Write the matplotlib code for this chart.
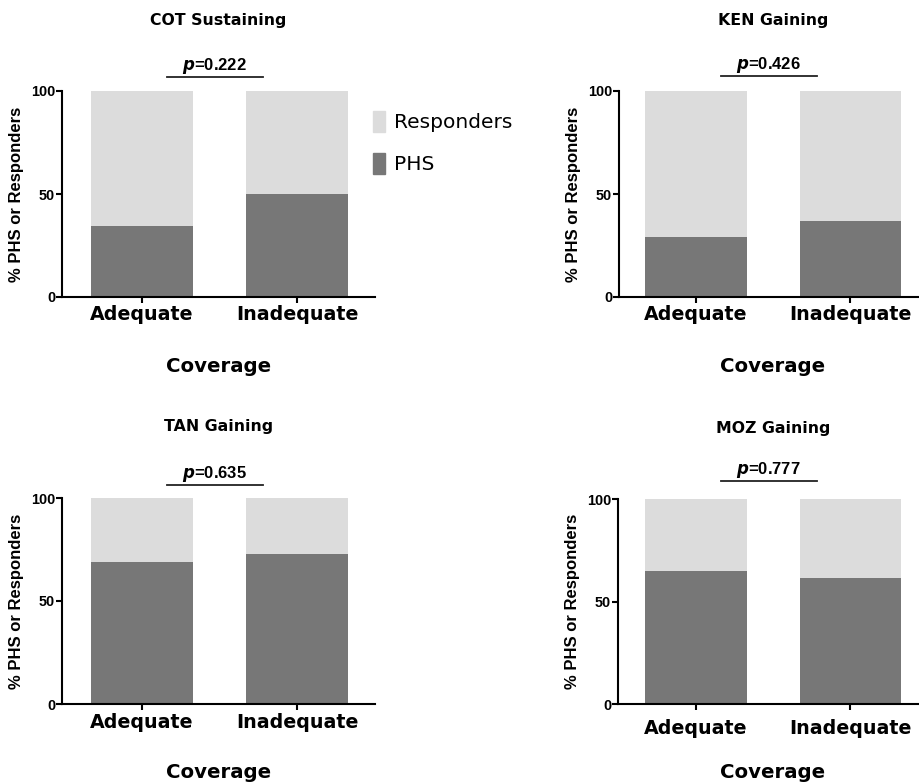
import matplotlib
matplotlib.use('Agg')
import matplotlib.pyplot as plt
from matplotlib.patches import Patch

# data
titles = ["COT Sustaining", "KEN Gaining", "TAN Gaining", "MOZ Gaining"]
categories = ["Adequate", "Inadequate"]
phs_adequate = [34.5, 29.1, 68.9, 64.9]
phs_inadequate = [50.0, 36.9, 72.8, 61.5]
p_values = ["0.222", "0.426", "0.635", "0.777"]

W, H = 920, 784
DARK = '#777777'
LIGHT = '#dcdcdc'
GOTHIC = 'DejaVu Sans'
ARIAL = 'Liberation Sans'

# panel geometry in pixels: axes left, top, right, bottom, first/second bar centre
layout = [
    (62, 91, 375, 297, 142, 297),
    (619, 91, 920, 297, 696, 850.5),
    (62, 498, 375, 704, 142, 297),
    (618, 499, 920, 704, 696, 850.5),
]
tick_pads = [1.5, 1.5, 2.5, 6.5]
cover_y = [367, 367, 773, 773]
title_y = [21, 21, 427, 428]
pline_px = [77, 76, 485, 481]


def fx(x):
    return x / W


def fy(y):
    return 1 - y / H


fig = plt.figure(figsize=(W / 100, H / 100), dpi=100)

for i, (l, t, r, b, c0, c1) in enumerate(layout):
    ax = fig.add_axes([fx(l), fy(b), fx(r) - fx(l), fy(t) - fy(b)])
    step = c1 - c0
    xs = [0, 1]
    phs = [phs_adequate[i], phs_inadequate[i]]
    resp = [100 - v for v in phs]
    ax.bar(xs, phs, width=0.66, color=DARK, linewidth=0, label='PHS')
    ax.bar(xs, resp, bottom=phs, width=0.66, color=LIGHT, linewidth=0,
           label='Responders')
    ax.set_xlim((l - c0) / step, (r - c0) / step)
    ax.set_ylim(0, 100)
    ax.set_yticks([0, 50, 100])
    ax.set_xticks(xs)
    ax.set_xticklabels(categories, fontsize=13.7, fontweight='bold',
                       family=GOTHIC)
    for lab in ax.get_yticklabels():
        lab.set_family(ARIAL)
        lab.set_fontweight('bold')
        lab.set_fontsize(10.4)
    for s in ['top', 'right']:
        ax.spines[s].set_visible(False)
    for s in ['left', 'bottom']:
        ax.spines[s].set_linewidth(1.5)
    ax.tick_params(axis='y', length=4, width=1.5, pad=1)
    ax.tick_params(axis='x', length=4, width=1.5, pad=tick_pads[i])

    ax.set_ylabel('% PHS or Responders', family=ARIAL, fontweight='bold',
                  fontsize=12)
    ax.yaxis.set_label_coords(-38 / (r - l), 0.5)

    # p-value bracket
    yl = (b - pline_px[i]) / (b - t) * 100
    ax.plot([0.16, 0.78], [yl, yl], color='#222222', lw=1.3, clip_on=False)
    ax.text(0.47, yl + 0.4, r'$\mathbfit{p}$=' + p_values[i], ha='center',
            va='bottom', family=ARIAL, fontweight='bold', fontsize=12)

    fig.text(fx((l + r) / 2 if i % 2 == 0 else 773), fy(title_y[i]),
             titles[i], ha='center', va='center', family=GOTHIC,
             fontweight='bold', fontsize=11.3)
    fig.text(fx((l + r) / 2 if i % 2 == 0 else 773), fy(cover_y[i]),
             'Coverage', ha='center', va='center', family=GOTHIC,
             fontweight='bold', fontsize=14.2)

    if i == 0:
        handles = [Patch(color=LIGHT, label='Responders'),
                   Patch(color=DARK, label='PHS')]
        ax.legend(handles=handles, loc='upper left',
                  bbox_to_anchor=((373 - l) / (r - l), (b - 111) / (b - t)),
                  frameon=False, borderpad=0, borderaxespad=0,
                  handlelength=0.6, handleheight=1.2, handletextpad=0.45,
                  labelspacing=1.05, prop={'family': GOTHIC, 'size': 14.5})

fig.savefig('out.png', dpi=100)
